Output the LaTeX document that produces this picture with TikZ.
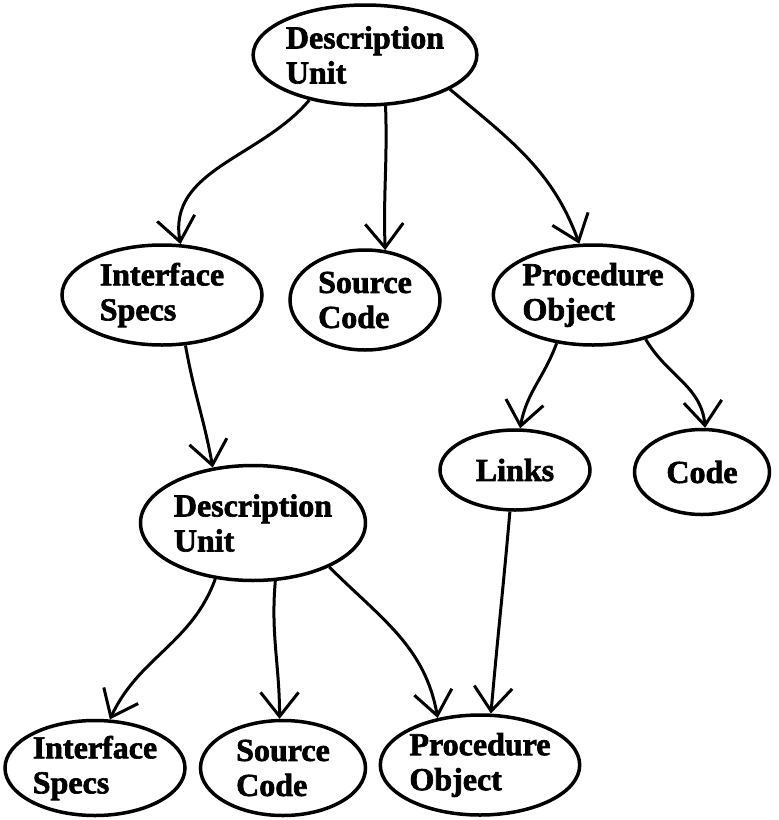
\documentclass[tikz,border=0pt]{standalone}
\usepackage{fontspec}
\setmainfont{Liberation Serif}[BoldFeatures={FakeBold=2}]
\usetikzlibrary{shapes.geometric,arrows.meta}
\tikzset{
  blob/.style={ellipse, draw, line width=3.5pt, inner sep=0pt, align=left,
    font=\bfseries\fontsize{32}{35}\selectfont},
  link/.style={line width=3pt, -{Straight Barb[length=24pt,width=38pt,line width=3pt]}}
}
\begin{document}
\begin{tikzpicture}[x=1pt,y=-1pt]
\useasboundingbox (0,0) rectangle (779,820);
\node[blob, minimum width=190pt, minimum height=100pt] (du1) at (365,55) {Description\\Unit};
\node[blob, minimum width=200pt, minimum height=100pt] (is1) at (162,295) {Interface\\Specs};
\node[blob, minimum width=150pt, minimum height=100pt] (sc1) at (365,300) {Source\\Code};
\node[blob, minimum width=195pt, minimum height=100pt] (po1) at (593,295) {Procedure\\Object};
\node[blob, minimum width=150pt, minimum height=80pt] (ln) at (515,470) {Links};
\node[blob, minimum width=135pt, minimum height=85pt] (cd) at (702,472) {Code};
\node[blob, minimum width=225pt, minimum height=115pt] (du2) at (253,523) {Description\\Unit};
\node[blob, minimum width=180pt, minimum height=95pt] (is2) at (95,768) {Interface\\Specs};
\node[blob, minimum width=165pt, minimum height=95pt] (sc2) at (283,768) {Source\\Code};
\node[blob, minimum width=180pt, minimum height=100pt] (po2) at (480,765) {Procedure\\Object};

\draw[link] (du1.219) to[out=230,in=100] (is1.70);
\draw[link] (du1.292) to[out=-88,in=92] (sc1.68);
\draw[link] (du1.338) to[out=-40,in=110] (po1.105);
\draw[link] (is1.295) to[out=-80,in=100] (du2.126);
\draw[link] (po1.233) to[out=-110,in=80] (ln.83);
\draw[link] (po1.320) to[out=-60,in=95] (cd.86);
\draw[link] (du2.236) to[out=-110,in=65] (is2.73);
\draw[link] (du2.291) to[out=-95,in=90] (sc2.94);
\draw[link] (du2.330) to[out=-45,in=100] (po2.132);
\draw[link] (ln.263) to[out=-95,in=85] (po2.78);
\end{tikzpicture}
\end{document}
